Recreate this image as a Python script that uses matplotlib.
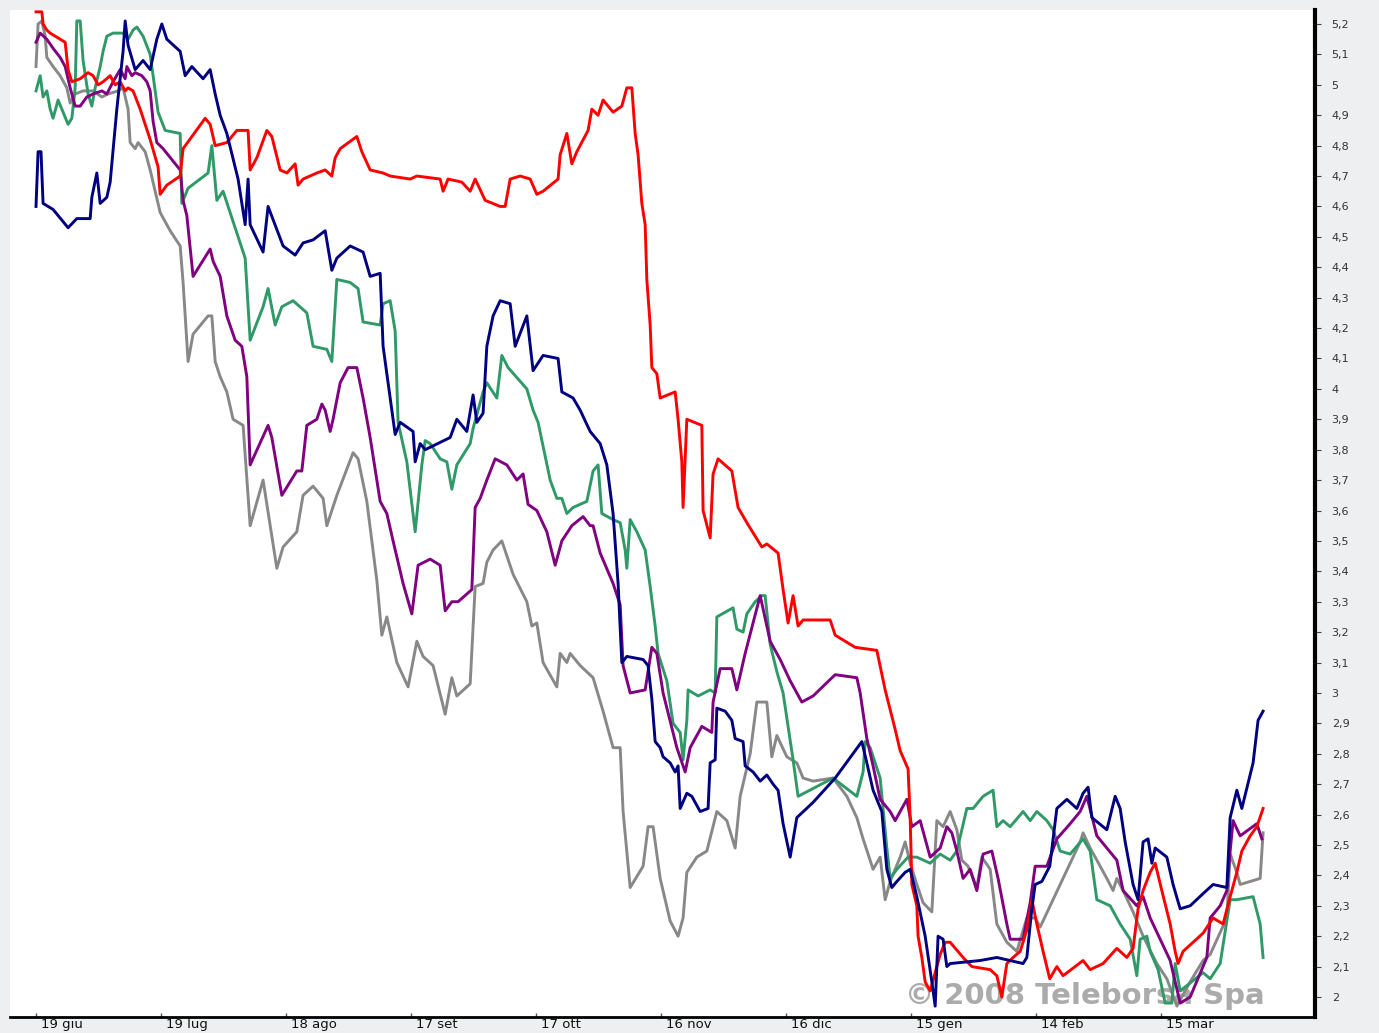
import matplotlib
matplotlib.use("Agg")
import matplotlib.pyplot as plt
import matplotlib.transforms as mtransforms
import numpy as np

# ---- data: days since 19 giu, price values ----
navy_days = [0, 0.5, 1.2, 1.7, 4.1, 7.7, 9.8, 13, 13.4, 14.6, 15.4, 17, 17.8, 19.4, 20.9, 21.4, 22.1, 23.8, 25.7, 27.4,
             29, 30.2, 31.4, 34.6, 35.8, 37.4, 40.1, 41.8, 43, 44.2, 45.8, 48.5, 50.2, 50.9, 51.4, 54.5, 55.7, 59.3, 62.2, 64.1,
             66.5, 69.4, 71, 72.2, 75.4, 78.5, 80.2, 82.6, 83.3, 85.7, 86.2, 87.4, 90.5, 91, 92.2, 93.4, 99.4, 101, 103.4, 104.9,
             105.8, 107.3, 108.2, 109.7, 111.4, 113.8, 115, 117.8, 119.3, 121.7, 125.3, 126.2, 128.9, 130.6, 133, 135.4, 137, 138.5, 139.7, 140.6,
             141.8, 145.7, 146.9, 147.8, 148.6, 149.8, 150.5, 152.2, 153.4, 154.1, 154.6, 156.2, 157.4, 159.4, 161.3, 161.8, 163, 163.4, 165.4, 167,
             167.8, 169.7, 170.2, 172.1, 173.8, 175.4, 176.9, 178.1, 179.3, 181, 182.6, 186.5, 191.8, 198.2, 199.4, 200.9, 203, 204.2, 205.4, 206.6,
             208.6, 209.8, 211.4, 213.4, 215, 215.8, 216.5, 217.7, 218.6, 219.4, 226.6, 230.6, 236.9, 237.8, 239, 239.8, 241.4, 243.3, 245, 247.4,
             249.8, 251.3, 252.5, 253.4, 257, 259, 260.2, 261.4, 263.3, 264.5, 265.7, 266.9, 267.8, 268.6, 271.4, 272.9, 274.6, 277, 280.1, 282.5,
             285.8, 286.6, 288.2, 289.4, 292.1, 293.3, 294.5]
navy_vals = [4.60, 4.78, 4.78, 4.61, 4.59, 4.53, 4.56, 4.56, 4.63, 4.71, 4.61, 4.63, 4.68, 4.92, 5.11, 5.21, 5.13, 5.05, 5.08, 5.05,
             5.15, 5.20, 5.15, 5.11, 5.03, 5.06, 5.02, 5.05, 4.97, 4.90, 4.84, 4.69, 4.54, 4.69, 4.54, 4.45, 4.60, 4.47, 4.44, 4.48,
             4.49, 4.52, 4.39, 4.43, 4.47, 4.45, 4.37, 4.38, 4.14, 3.90, 3.85, 3.89, 3.86, 3.76, 3.82, 3.80, 3.84, 3.90, 3.86, 3.98,
             3.89, 3.92, 4.14, 4.24, 4.29, 4.28, 4.14, 4.24, 4.06, 4.11, 4.10, 3.99, 3.97, 3.93, 3.86, 3.82, 3.75, 3.59, 3.36, 3.10,
             3.12, 3.11, 3.09, 2.98, 2.84, 2.82, 2.79, 2.77, 2.74, 2.76, 2.62, 2.67, 2.66, 2.61, 2.62, 2.77, 2.78, 2.95, 2.94, 2.91,
             2.85, 2.84, 2.76, 2.74, 2.71, 2.73, 2.70, 2.68, 2.57, 2.46, 2.59, 2.64, 2.72, 2.84, 2.77, 2.68, 2.61, 2.42, 2.36, 2.38,
             2.41, 2.42, 2.33, 2.20, 2.05, 1.97, 2.20, 2.19, 2.10, 2.11, 2.12, 2.13, 2.11, 2.13, 2.29, 2.37, 2.38, 2.43, 2.62, 2.65,
             2.62, 2.67, 2.69, 2.59, 2.55, 2.66, 2.62, 2.51, 2.37, 2.32, 2.51, 2.52, 2.44, 2.49, 2.46, 2.37, 2.29, 2.30, 2.34, 2.37,
             2.36, 2.59, 2.68, 2.62, 2.77, 2.91, 2.94]

red_days = [0, 1.4, 1.7, 2.6, 3.4, 5.8, 7, 7.7, 8.6, 10.6, 12.5, 13.7, 14.9, 16.1, 17.8, 19, 20.2, 21.4, 22.1, 23.3,
            25, 27.4, 29.3, 29.8, 31.4, 34.6, 35.3, 40.6, 41.8, 43, 45.8, 48.2, 50.9, 51.4, 53, 55.4, 56.6, 58.6, 60.2, 62.2,
            62.9, 64.1, 67.4, 69.4, 71, 71.8, 73, 77, 78.2, 80.2, 83.3, 85, 89.8, 91.4, 97, 97.7, 98.9, 102.2, 104.2, 105.4,
            107.8, 111.4, 112.6, 113.8, 116.2, 118.6, 120.2, 121.7, 125.3, 125.8, 127.4, 128.6, 129.8, 132.5, 133.4, 134.9, 136.1, 138.5, 140.6, 141.8,
            143, 143.8, 144.5, 145.4, 146.2, 146.6, 147.4, 147.8, 149, 149.8, 153.4, 154.1, 155, 155.3, 156.2, 159.8, 160.1, 161.8, 162.5, 163.7,
            167, 168.5, 170.6, 174.2, 175.4, 178.1, 179.3, 180.5, 181.7, 182.9, 184.1, 190.6, 191.8, 196.6, 201.8, 203.8, 206.2, 207.4, 209.3, 209.8,
            210.2, 211.4, 211.7, 212.6, 213.4, 214.6, 217, 218.2, 219.4, 222.5, 224.6, 229, 230.6, 231.8, 233, 234.5, 236.2, 237.8, 239, 240.2,
            241.7, 243.3, 245, 246.5, 251.3, 253, 256.1, 259.4, 261.8, 263.3, 264.5, 265.7, 267.4, 268.6, 270.2, 272.2, 273.4, 274.1, 275.3, 280.1,
            282.5, 284.9, 286.6, 288.2, 289.4, 291.4, 293, 294.5]
red_vals = [5.24, 5.24, 5.20, 5.18, 5.17, 5.15, 5.14, 5.05, 5.01, 5.02, 5.04, 5.03, 5.00, 5.01, 5.03, 5.00, 5.01, 4.98, 4.99, 4.98,
            4.92, 4.82, 4.73, 4.64, 4.67, 4.70, 4.79, 4.89, 4.87, 4.80, 4.81, 4.85, 4.85, 4.72, 4.76, 4.85, 4.83, 4.72, 4.71, 4.74,
            4.67, 4.69, 4.71, 4.72, 4.70, 4.76, 4.79, 4.83, 4.78, 4.72, 4.71, 4.70, 4.69, 4.70, 4.69, 4.65, 4.69, 4.68, 4.65, 4.69,
            4.62, 4.60, 4.60, 4.69, 4.70, 4.69, 4.64, 4.65, 4.69, 4.77, 4.84, 4.74, 4.78, 4.85, 4.92, 4.90, 4.95, 4.91, 4.93, 4.99,
            4.99, 4.84, 4.77, 4.61, 4.54, 4.36, 4.21, 4.07, 4.05, 3.97, 3.99, 3.90, 3.76, 3.61, 3.90, 3.88, 3.60, 3.51, 3.72, 3.77,
            3.73, 3.61, 3.56, 3.48, 3.49, 3.46, 3.34, 3.23, 3.32, 3.22, 3.24, 3.24, 3.19, 3.15, 3.14, 3.01, 2.88, 2.81, 2.75, 2.59,
            2.37, 2.30, 2.20, 2.13, 2.05, 2.02, 2.14, 2.18, 2.18, 2.13, 2.10, 2.09, 2.07, 2.00, 2.11, 2.13, 2.15, 2.22, 2.32, 2.24,
            2.15, 2.06, 2.10, 2.07, 2.12, 2.09, 2.11, 2.16, 2.13, 2.16, 2.29, 2.35, 2.41, 2.44, 2.35, 2.24, 2.15, 2.11, 2.15, 2.21,
            2.26, 2.24, 2.33, 2.41, 2.48, 2.53, 2.56, 2.62]

purple_days = [0, 1, 2.6, 4.1, 5.8, 7, 8.2, 9.4, 10.6, 12.2, 13.7, 15.8, 17, 18.5, 20.2, 21.4, 21.8, 23, 23.8, 25.4,
               26.6, 27.4, 28.1, 29, 30.5, 34.6, 35.3, 36.2, 37.7, 41.8, 42.5, 44.2, 45.8, 47.8, 49.4, 50.6, 51.4, 55.7, 56.6, 59,
               62.6, 63.8, 65, 67.4, 68.6, 69.4, 70.6, 71.3, 73, 74.9, 77, 78.5, 80.2, 82.6, 84.2, 85.7, 88.1, 90.2, 91.7, 94.6,
               97, 98.2, 99.8, 101.3, 104.6, 105.4, 106.6, 108.2, 110.2, 113, 115.4, 116.9, 118.1, 120.2, 122.6, 124.6, 126.2, 128.6, 131.3, 133,
               133.7, 135.4, 138.5, 140.2, 140.9, 142.6, 146.2, 147.8, 149, 150.5, 153.8, 155.8, 157, 159.8, 162.2, 162.5, 164.2, 167, 168.2, 170.2,
               173.8, 176.2, 178.6, 181, 183.8, 186.5, 191.8, 197, 197.8, 199.4, 200.9, 202.6, 205, 206.2, 209, 210.2, 212.2, 214.6, 217, 218.6,
               219.8, 221, 222.5, 224.2, 225.8, 227.3, 229.4, 230.9, 233, 233.8, 236.9, 238.6, 239.8, 242.6, 245, 248.2, 250.6, 252.2, 254.6, 257,
               259.4, 260.9, 264.2, 265.7, 267.4, 269.8, 272.2, 274.6, 277, 281, 281.8, 284.2, 285.8, 286.6, 287.3, 289, 293, 294.2]
purple_vals = [5.14, 5.17, 5.15, 5.12, 5.09, 5.06, 4.99, 4.93, 4.93, 4.96, 4.97, 4.98, 4.97, 5.01, 5.05, 5.02, 5.06, 5.03, 5.04, 5.03,
               5.01, 4.98, 4.88, 4.81, 4.79, 4.72, 4.62, 4.57, 4.37, 4.46, 4.42, 4.37, 4.24, 4.16, 4.14, 4.04, 3.75, 3.88, 3.84, 3.65,
               3.73, 3.73, 3.88, 3.90, 3.95, 3.93, 3.86, 3.90, 4.02, 4.07, 4.07, 3.97, 3.84, 3.63, 3.59, 3.50, 3.36, 3.26, 3.42, 3.44,
               3.42, 3.27, 3.30, 3.30, 3.34, 3.61, 3.64, 3.70, 3.77, 3.75, 3.70, 3.72, 3.62, 3.60, 3.53, 3.42, 3.50, 3.55, 3.58, 3.55,
               3.55, 3.46, 3.36, 3.29, 3.09, 3.00, 3.01, 3.15, 3.13, 3.00, 2.82, 2.74, 2.82, 2.89, 2.87, 2.97, 3.08, 3.08, 3.01, 3.13,
               3.32, 3.17, 3.11, 3.04, 2.97, 2.99, 3.06, 3.05, 3.00, 2.85, 2.76, 2.65, 2.61, 2.58, 2.65, 2.56, 2.58, 2.46, 2.49, 2.56,
               2.54, 2.48, 2.39, 2.42, 2.35, 2.47, 2.48, 2.39, 2.24, 2.19, 2.19, 2.31, 2.43, 2.43, 2.52, 2.57, 2.61, 2.66, 2.53, 2.49,
               2.45, 2.35, 2.30, 2.33, 2.26, 2.19, 2.12, 1.98, 2.00, 2.13, 2.26, 2.30, 2.35, 2.48, 2.58, 2.53, 2.57, 2.52]

green_days = [0, 1, 1.7, 2.6, 3.4, 4.1, 5.3, 6.5, 7.7, 8.6, 9.4, 9.8, 10.6, 11.3, 12.5, 13.4, 14.2, 15.4, 16.1, 17,
              18.5, 20.9, 22.1, 23.3, 24.2, 25.7, 27.4, 28.1, 29.3, 31, 34.6, 35, 36.5, 41.3, 42.2, 43.4, 44.9, 47.3, 50.2, 51.4,
              54.5, 55.7, 57.4, 59, 61.7, 65, 66.5, 69.8, 71, 72.2, 75.4, 77.3, 78.5, 82.6, 83.3, 85, 86.2, 86.9, 89, 91,
              92.6, 93.4, 94.6, 97, 98.6, 99.8, 101, 104.2, 104.9, 107.3, 108.2, 110.6, 111.8, 113.3, 117.8, 119.3, 120.5, 123.4, 125, 126.2,
              127.4, 128.9, 132.2, 133.7, 134.9, 135.8, 138.5, 140.2, 141.4, 141.8, 142.6, 144.2, 146.2, 147.4, 148.6, 149.3, 151.4, 152.9, 154.6, 155.3,
              156.2, 156.5, 158.9, 161.8, 163, 163.4, 167.3, 168.2, 169.7, 170.6, 172.6, 174.2, 175, 176.2, 177.8, 179.3, 181.7, 182.9, 191.3, 197,
              198.5, 199, 200.2, 202.6, 204.2, 205, 206.6, 209.3, 211.4, 214.6, 217, 219.4, 221, 223.4, 224.9, 227.3, 229.7, 230.6, 232.1, 233.8,
              236.9, 238.6, 240.2, 242.6, 244.1, 245.8, 248.2, 251.3, 253, 254.6, 257.8, 260.2, 262.6, 264.2, 265, 266.6, 267.4, 269.3, 271, 272.6,
              273.4, 274.6, 280.1, 281.8, 284.2, 286.6, 288.2, 292.1, 293.8, 294.5]
green_vals = [4.98, 5.03, 4.96, 4.98, 4.92, 4.89, 4.95, 4.91, 4.87, 4.89, 4.99, 5.21, 5.21, 5.08, 4.97, 4.93, 4.99, 5.06, 5.11, 5.16,
              5.17, 5.17, 5.15, 5.18, 5.19, 5.16, 5.10, 5.03, 4.91, 4.85, 4.84, 4.61, 4.66, 4.71, 4.80, 4.62, 4.65, 4.55, 4.43, 4.16,
              4.27, 4.33, 4.21, 4.27, 4.29, 4.25, 4.14, 4.13, 4.09, 4.36, 4.35, 4.33, 4.22, 4.21, 4.28, 4.29, 4.19, 3.89, 3.76, 3.53,
              3.75, 3.83, 3.82, 3.77, 3.76, 3.67, 3.75, 3.82, 3.87, 3.99, 4.02, 3.97, 4.11, 4.07, 4.00, 3.93, 3.89, 3.70, 3.64, 3.64,
              3.59, 3.61, 3.63, 3.73, 3.75, 3.59, 3.57, 3.56, 3.47, 3.41, 3.57, 3.53, 3.47, 3.35, 3.22, 3.13, 3.04, 2.90, 2.87, 2.78,
              2.91, 3.01, 2.99, 3.01, 3.00, 3.25, 3.28, 3.21, 3.20, 3.26, 3.30, 3.32, 3.32, 3.16, 3.07, 3.00, 2.78, 2.66, 2.72, 2.66,
              2.74, 2.84, 2.82, 2.72, 2.49, 2.39, 2.42, 2.46, 2.46, 2.44, 2.47, 2.45, 2.48, 2.62, 2.62, 2.66, 2.68, 2.56, 2.58, 2.56,
              2.61, 2.58, 2.61, 2.58, 2.55, 2.48, 2.47, 2.52, 2.48, 2.32, 2.30, 2.24, 2.19, 2.07, 2.19, 2.20, 2.15, 2.09, 1.98, 1.98,
              2.11, 2.02, 2.08, 2.06, 2.11, 2.32, 2.32, 2.33, 2.24, 2.13]

gray_days = [0, 0.5, 1.4, 2.2, 2.6, 4.1, 5.8, 7.4, 8.2, 9.4, 11.3, 13.7, 15.8, 17.3, 19.7, 20.9, 22.1, 22.6, 23.8, 24.5,
             26.2, 27.4, 28.6, 29.8, 32.2, 34.6, 35.3, 36.5, 37.7, 41.3, 42.2, 43, 44.2, 45.8, 47.3, 49.7, 51.4, 54.5, 57.8, 59.3,
             62.6, 64.1, 66.5, 68.9, 69.8, 72.2, 76.1, 77.3, 79.4, 81.8, 83, 84.2, 86.6, 89.3, 91.4, 92.9, 95.3, 98.2, 99.8, 101,
             104.2, 105.4, 107.3, 108.2, 109.7, 111.8, 114.5, 117.8, 119, 120.2, 121.7, 125, 125.8, 127.4, 128.2, 130.6, 133.7, 136.1, 138.5, 140.2,
             140.9, 142.6, 145.7, 146.9, 148.1, 149.8, 152.2, 154.1, 155.3, 156.2, 158.6, 161, 163.4, 165.8, 167.8, 169, 171.4, 173, 175.4, 176.6,
             177.8, 180.2, 182.6, 184.1, 186.5, 191.3, 194.6, 197, 198.5, 200.9, 202.6, 203.8, 205, 207.4, 208.6, 209.8, 211.4, 212.9, 215, 216.2,
             217.7, 219.4, 221, 222.2, 223.7, 225.8, 227, 229, 230.6, 233, 235.4, 237.8, 239.8, 241, 243.4, 246.5, 250.6, 251.3, 253, 257,
             258.5, 259.4, 260.9, 263.3, 265.7, 269, 271.4, 273.8, 277, 280.1, 281.8, 285.8, 286.6, 288.2, 289, 293.8, 294.5]
gray_vals = [5.06, 5.20, 5.21, 5.16, 5.09, 5.06, 5.03, 4.99, 4.94, 4.97, 4.98, 4.98, 4.96, 4.97, 4.98, 4.99, 4.92, 4.81, 4.79, 4.81,
             4.78, 4.72, 4.65, 4.58, 4.52, 4.47, 4.35, 4.09, 4.18, 4.24, 4.24, 4.09, 4.04, 3.99, 3.90, 3.88, 3.55, 3.70, 3.41, 3.48,
             3.53, 3.65, 3.68, 3.64, 3.55, 3.65, 3.79, 3.77, 3.63, 3.37, 3.19, 3.25, 3.10, 3.02, 3.17, 3.12, 3.09, 2.93, 3.05, 2.99,
             3.03, 3.35, 3.36, 3.43, 3.47, 3.50, 3.39, 3.30, 3.22, 3.23, 3.10, 3.02, 3.13, 3.10, 3.13, 3.09, 3.05, 2.94, 2.82, 2.82,
             2.61, 2.36, 2.43, 2.56, 2.56, 2.39, 2.25, 2.20, 2.26, 2.41, 2.46, 2.48, 2.61, 2.58, 2.49, 2.66, 2.80, 2.97, 2.97, 2.79,
             2.86, 2.79, 2.77, 2.72, 2.71, 2.72, 2.66, 2.59, 2.52, 2.42, 2.46, 2.32, 2.38, 2.46, 2.51, 2.44, 2.37, 2.31, 2.28, 2.58,
             2.56, 2.61, 2.55, 2.45, 2.43, 2.36, 2.46, 2.42, 2.24, 2.18, 2.15, 2.26, 2.26, 2.23, 2.30, 2.39, 2.51, 2.54, 2.49, 2.39,
             2.35, 2.39, 2.35, 2.28, 2.20, 2.11, 2.06, 1.97, 2.05, 2.12, 2.14, 2.26, 2.47, 2.41, 2.37, 2.39, 2.54]

x_tick_days = [0, 30, 60, 90, 120, 150, 180, 210, 240, 270]
x_tick_labels = ["19 giu", "19 lug", "18 ago", "17 set", "17 ott", "16 nov", "16 dic", "15 gen", "14 feb", "15 mar"]
y_tick_values = [round(2.0 + 0.1 * i, 1) for i in range(33)]
y_tick_labels = [f"{v:g}".replace(".", ",") for v in y_tick_values]
watermark = "© 2008 Teleborsa Spa"

# ---- figure ----
W, H = 1379, 1033
fig = plt.figure(figsize=(W / 100, H / 100), dpi=100, facecolor="#edeff1")
ax = fig.add_axes([10 / W, 1 - 1017 / H, (1315 - 10) / W, (1017 - 10) / H])
ax.set_facecolor("white")

# watermark sits beneath the price lines
ax.text(1085 / W, 1 - 996 / H, watermark, transform=fig.transFigure, fontsize=21, fontweight="bold",
        color="#ababab", ha="center", va="center", zorder=1, fontfamily="DejaVu Sans")

lw = 2.1
ax.plot(gray_days, gray_vals, color="#888888", lw=lw, zorder=2)
ax.plot(green_days, green_vals, color="#2f9968", lw=lw, zorder=3)
ax.plot(purple_days, purple_vals, color="#800080", lw=lw, zorder=4)
ax.plot(red_days, red_vals, color="#ff0000", lw=lw, zorder=5)
ax.plot(navy_days, navy_vals, color="#000080", lw=lw, zorder=6)

px_day = 125 / 30.0
ax.set_xlim((10 - 36) / px_day, (1315 - 36) / px_day)
px_val = (997 - 24) / 3.2
ax.set_ylim(2 - 20 / px_val, 5.2 + 14 / px_val)

for s in ["left", "top"]:
    ax.spines[s].set_visible(False)
ax.spines["right"].set_linewidth(3.0)
ax.spines["right"].set_color("black")
ax.spines["bottom"].set_linewidth(2.0)
ax.spines["bottom"].set_color("black")

ax.yaxis.tick_right()
ax.set_yticks(y_tick_values)
ax.set_yticklabels(y_tick_labels, fontsize=8, color="#333333", fontfamily="DejaVu Sans")
ax.tick_params(axis="y", which="major", length=4, width=0.8, color="#444444", pad=8)

ax.set_xticks(x_tick_days)
ax.set_xticklabels(x_tick_labels, fontsize=9.5, color="#111111", fontfamily="DejaVu Sans")
ax.tick_params(axis="x", which="major", length=3, width=1, color="#555555", pad=1, direction="in")
offset = mtransforms.ScaledTranslation(5 / 100, 0, fig.dpi_scale_trans)
for lab in ax.get_xticklabels():
    lab.set_horizontalalignment("left")
    lab.set_transform(lab.get_transform() + offset)

fig.savefig("out.png", dpi=100, facecolor=fig.get_facecolor())
